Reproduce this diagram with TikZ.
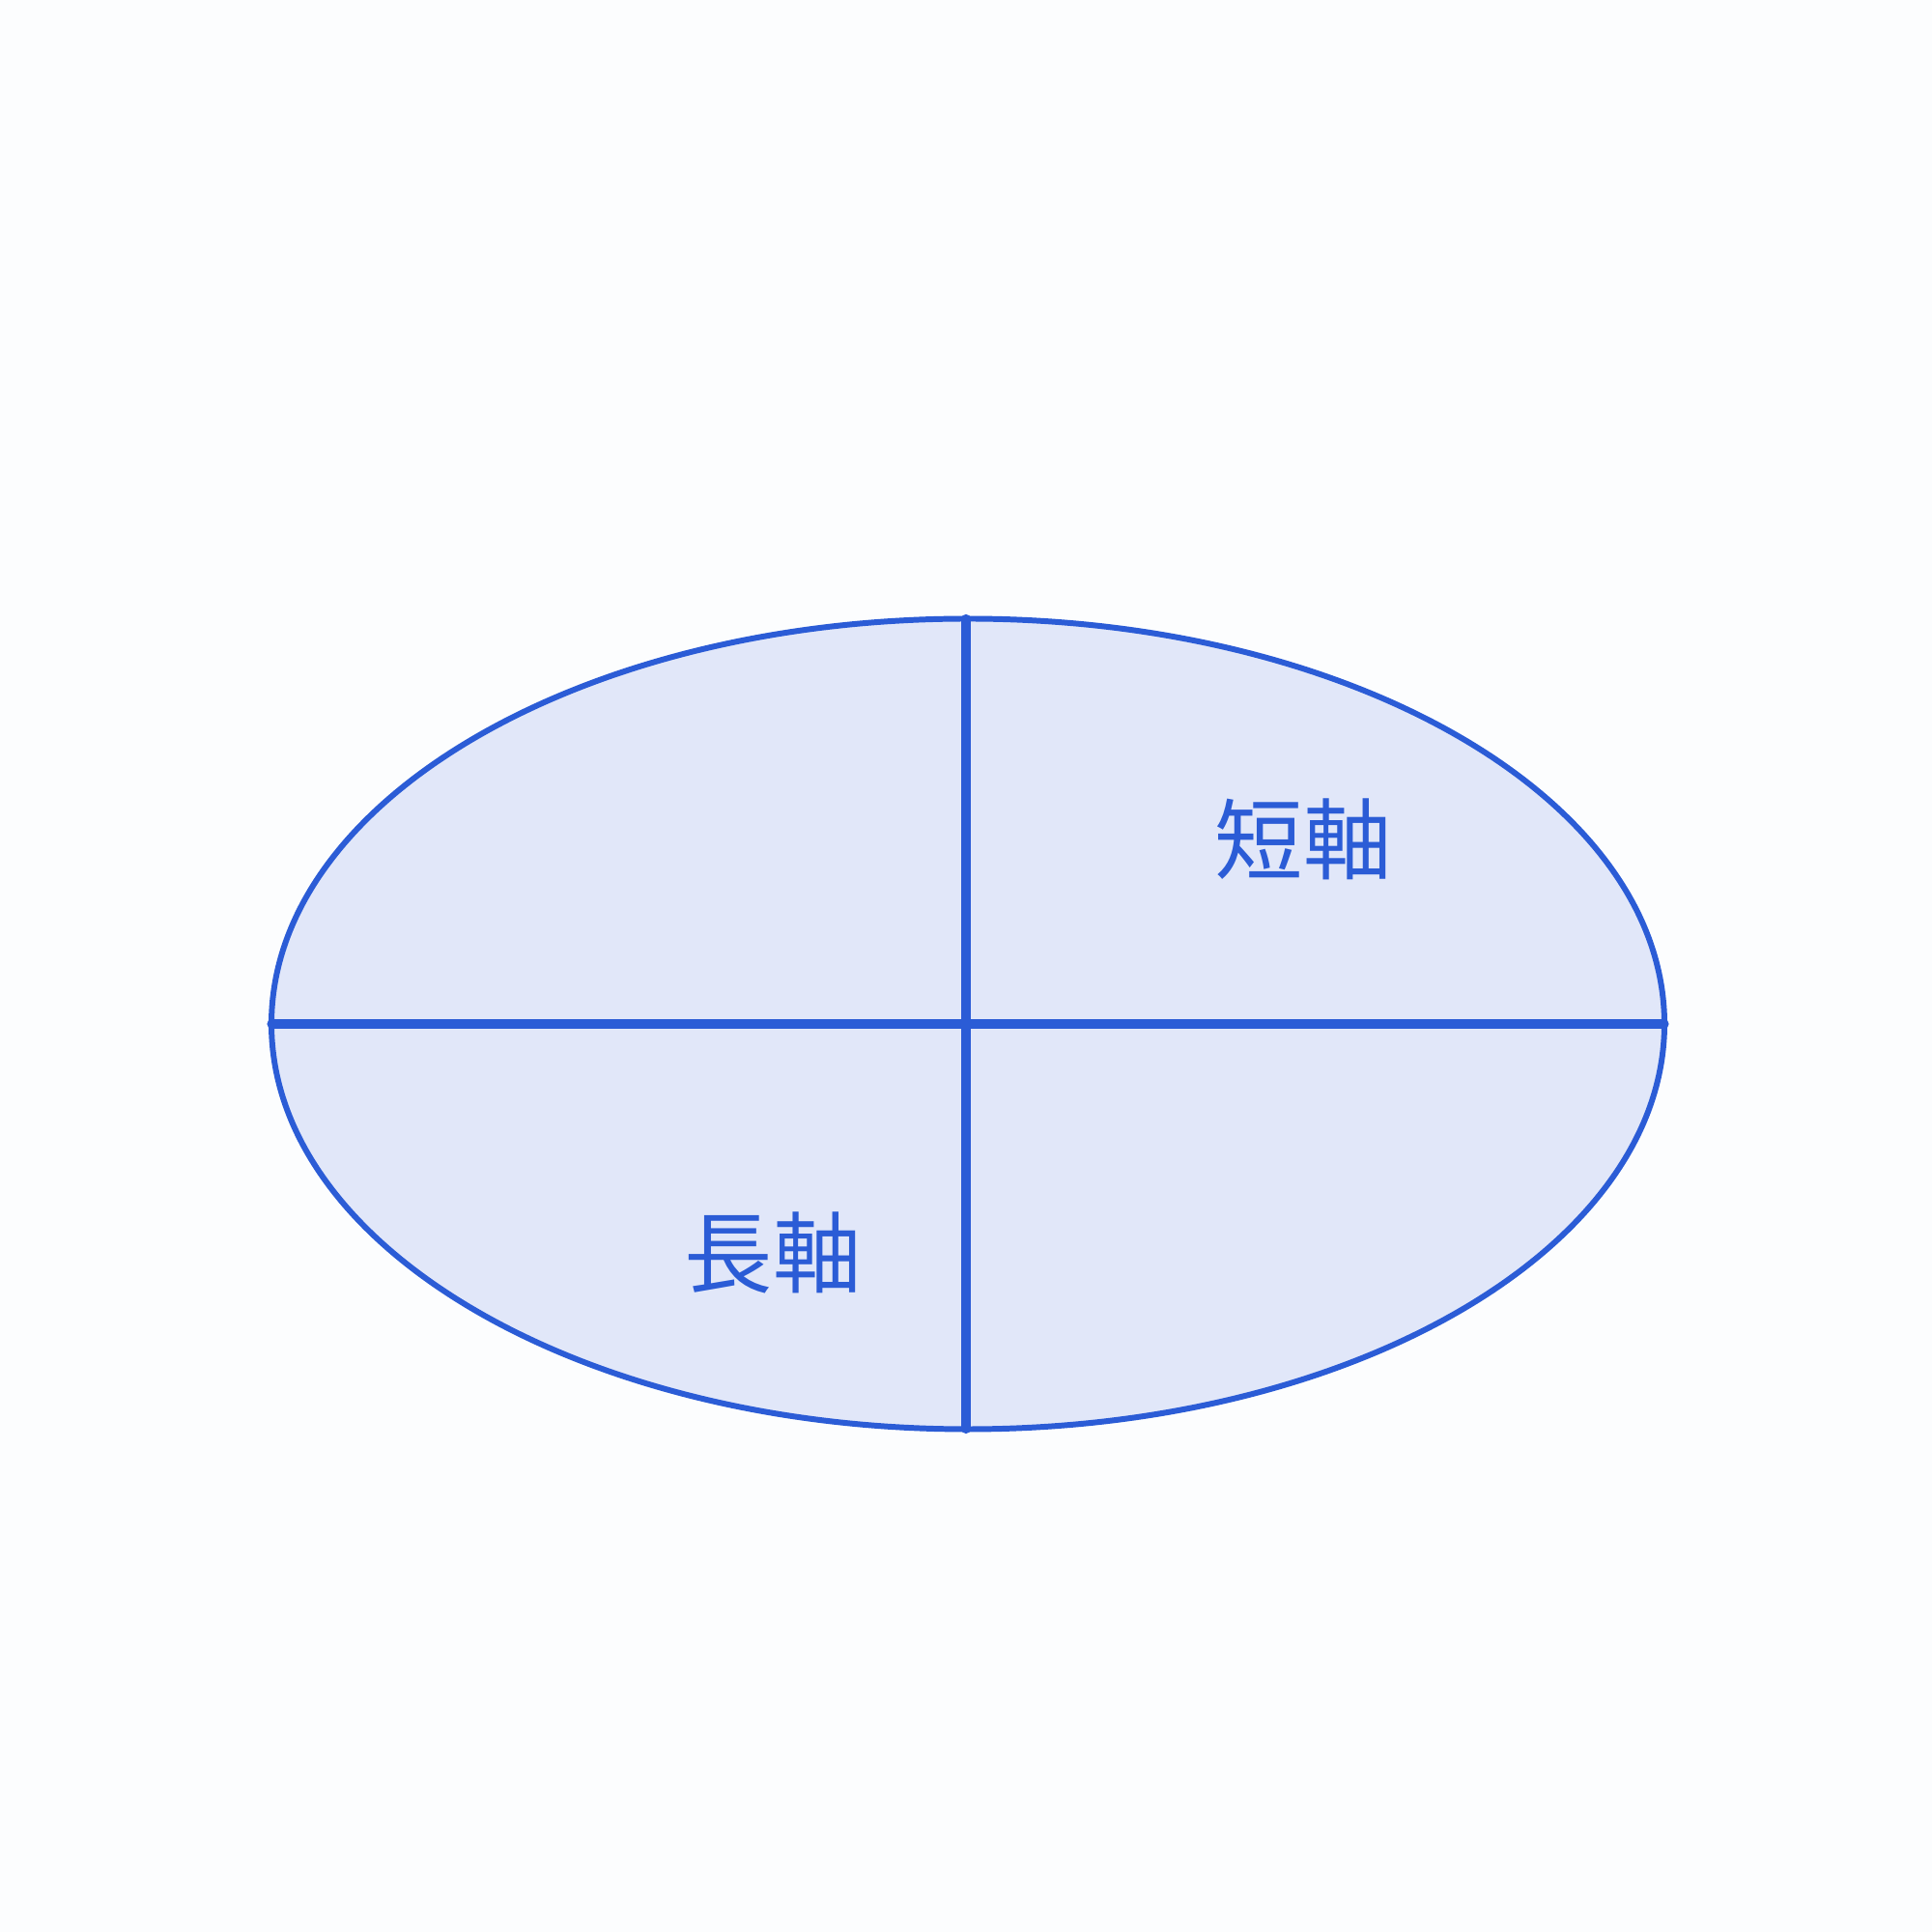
\documentclass[tikz,border=0pt]{standalone}
\usepackage{fontspec}
\newfontfamily\cjk{Noto Sans CJK JP}
\definecolor{axisblue}{RGB}{43,92,214}
\definecolor{ellfill}{RGB}{225,231,249}
\definecolor{bgpaper}{RGB}{252,253,254}
\tikzset{
    axisline/.style={axisblue, line width=2.6pt, line cap=round},
    axislabel/.style={text=axisblue, font=\cjk\fontsize{26}{30}\selectfont, inner sep=0pt}
}
\begin{document}
\begin{tikzpicture}
        \fill[bgpaper] (0,0) rectangle (20,20);
        \useasboundingbox (0,0) rectangle (20,20);
        \filldraw[fill=ellfill, draw=axisblue, line width=1.7pt] (10.02,9.40) ellipse [x radius=7.21, y radius=4.195];
        \coordinate (left) at (2.81,9.40);
        \coordinate (right) at (17.23,9.40);
        \coordinate (top) at (10.00,13.595);
        \coordinate (bottom) at (10.00,5.205);
        \draw[axisline] (left) -- (right);
        \draw[axisline] (top) -- (bottom);
        \node[axislabel] (short) at (13.49,11.31) {短軸};
        \node[axislabel] (long) at (8.00,7.03) {長軸};
    \end{tikzpicture}
\end{document}
